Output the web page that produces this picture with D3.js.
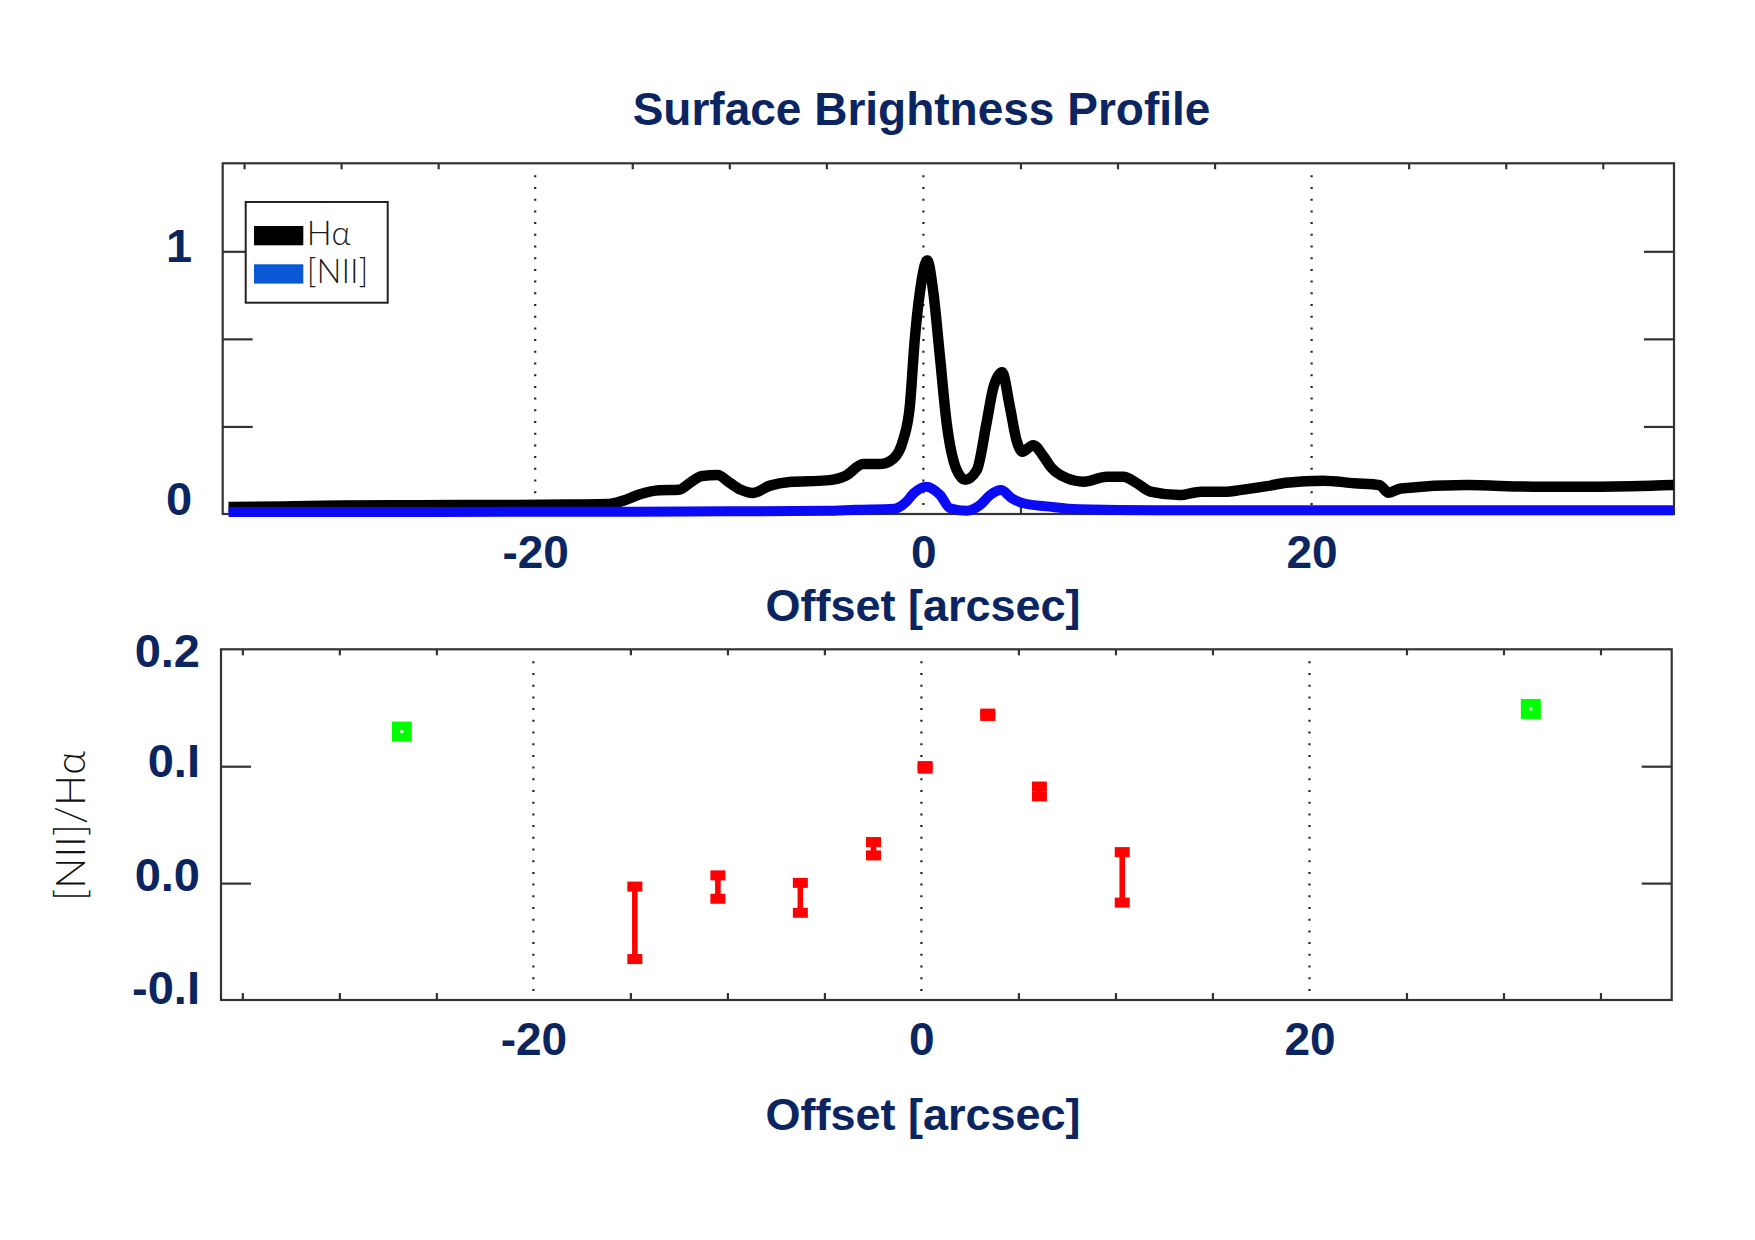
<!DOCTYPE html>
<html>
<head>
<meta charset="utf-8">
<script src="https://cdn.jsdelivr.net/npm/d3@7"></script>
<style>
  body { margin: 0; background: #fff; }
  svg { display: block; }
  .navy { font-family: "Liberation Sans", Arial, sans-serif; font-weight: bold; fill: #0b2560; }
  .thin { font-family: Lato, "Open Sans", sans-serif; font-weight: 300; fill: #1a1a1a; }
</style>
</head>
<body>
<svg id="chart" width="1755" height="1240"></svg>
<script>
// Hα surface brightness, [offset arcsec, normalised flux]
const haProfile = [
  [-35.8, 0.027], [-33, 0.029], [-30, 0.032], [-27, 0.033], [-24, 0.034], [-21, 0.034],
  [-18, 0.036], [-16.2, 0.038], [-15.5, 0.05], [-14.6, 0.075], [-13.6, 0.09], [-12.6, 0.092],
  [-12.0, 0.12], [-11.4, 0.145], [-10.6, 0.148], [-10.0, 0.12], [-9.4, 0.092], [-8.8, 0.08],
  [-7.9, 0.108], [-6.9, 0.122], [-5.0, 0.128], [-4.0, 0.146], [-3.1, 0.19], [-2.2, 0.19],
  [-1.55, 0.21], [-1.05, 0.28], [-0.7, 0.41], [-0.45, 0.66], [-0.17, 0.85], [0.2, 0.965],
  [0.5, 0.85], [0.85, 0.6], [1.2, 0.345], [1.7, 0.17], [2.15, 0.13], [2.75, 0.167],
  [3.25, 0.345], [3.6, 0.48], [4.05, 0.54], [4.45, 0.41], [4.8, 0.28], [5.1, 0.237],
  [5.65, 0.262], [6.2, 0.218], [6.55, 0.18], [7.4, 0.136], [8.25, 0.123], [9.45, 0.142],
  [10.3, 0.142], [11.0, 0.117], [11.7, 0.085], [13.2, 0.072], [14.3, 0.085], [15.6, 0.085],
  [16.3, 0.091], [17.7, 0.106], [18.7, 0.119], [20.6, 0.127], [22.2, 0.117], [23.5, 0.110],
  [23.96, 0.081], [24.6, 0.097], [28.0, 0.110], [31.4, 0.104], [34.9, 0.104], [38.65, 0.110]
];

// [NII] surface brightness
const niiProfile = [
  [-35.8, 0.008], [-25, 0.008], [-15, 0.009], [-10, 0.01], [-5, 0.012], [-3.5, 0.016],
  [-1.5, 0.02], [-0.9, 0.045], [-0.5, 0.079], [0.14, 0.104], [0.86, 0.072], [1.37, 0.022],
  [2.23, 0.012], [2.92, 0.034], [3.44, 0.072], [4.0, 0.091], [4.55, 0.06], [5.15, 0.041],
  [6.5, 0.028], [8, 0.018], [12, 0.014], [20, 0.014], [30, 0.014], [38.65, 0.014]
];

// [NII]/Hα ratio with error bars (red)
const ratioOffsets = [-14.77, -10.49, -6.24, -2.47, 0.19, 3.42, 6.08, 10.35];
const ratioValues  = [-0.034, -0.0034, -0.0126, 0.0294, 0.099, 0.144, 0.0784, 0.0049];
const ratioErrors  = [0.031, 0.010, 0.0128, 0.0057, 0.0011, 0.0010, 0.0042, 0.0216];

// outer points (green)
const outerOffsets = [-26.78, 31.41];
const outerValues  = [0.1296, 0.149];

// ticks
const xMajor = [-20, 0, 20];
const xMinor = [-35, -30, -25, -15, -10, -5, 5, 10, 15, 25, 30, 35];
const topYTicks = [1 / 3, 2 / 3, 1];
const topYLabelValues = [0, 1];
const topYLabels = ["0", "1"];
const botYTicks = [0, 0.1];
const botYLabelValues = [0.2, 0.1, 0, -0.1];
const botYLabels = ["0.2", "0.I", "0.0", "-0.I"];

const legendNames = ["Hα", "[NII]"];
const legendColors = ["#000000", "#0a58d6"];

const svg = d3.select("#chart");
const navy = "#0b2560";
const frameColor = "#333";

// panel frames
const topBox = { left: 222.7, right: 1674, top: 163.3, bottom: 514 };
const botBox = { left: 221, right: 1671.7, top: 649.3, bottom: 1000 };

const xTop = d3.scaleLinear().domain([-36.1, 38.67]).range([topBox.left, topBox.right]);
const yTop = d3.scaleLinear().domain([0, 1.335]).range([topBox.bottom, topBox.top]);
const xBot = d3.scaleLinear().domain([-36.1, 38.67]).range([botBox.left, botBox.right]);
const yBot = d3.scaleLinear().domain([-0.1, 0.2]).range([botBox.bottom, botBox.top]);

// Title
svg.append("text").attr("class", "navy").attr("x", 921.5).attr("y", 125)
  .attr("text-anchor", "middle").style("font-size", "46px").text("Surface Brightness Profile");

function drawFrame(box, x, y, yTicks) {
  const g = svg.append("g");
  // dotted verticals at the major offsets
  g.selectAll(".dot").data(xMajor).enter().append("line")
    .attr("x1", d => x(d)).attr("x2", d => x(d))
    .attr("y1", box.top + 12).attr("y2", box.bottom - 8)
    .attr("stroke", "#222").attr("stroke-width", 2.2).attr("stroke-dasharray", "2 9.7");
  // minor ticks top and bottom
  const ax = d3.axisTop(x).tickValues(xMinor).tickSize(-6).tickFormat("");
  g.append("g").attr("transform", `translate(0,${box.top})`).call(ax);
  const axb = d3.axisBottom(x).tickValues(xMinor).tickSize(-7).tickFormat("");
  g.append("g").attr("transform", `translate(0,${box.bottom})`).call(axb);
  // y ticks left/right
  const ayl = d3.axisLeft(y).tickValues(yTicks).tickSize(-30).tickFormat("");
  g.append("g").attr("transform", `translate(${box.left},0)`).call(ayl);
  const ayr = d3.axisRight(y).tickValues(yTicks).tickSize(-30).tickFormat("");
  g.append("g").attr("transform", `translate(${box.right},0)`).call(ayr);
  g.selectAll(".domain").remove();
  g.selectAll(".tick line").attr("stroke", frameColor).attr("stroke-width", 2.2);
  g.append("rect").attr("x", box.left).attr("y", box.top)
    .attr("width", box.right - box.left).attr("height", box.bottom - box.top)
    .attr("fill", "none").attr("stroke", frameColor).attr("stroke-width", 2.2);
  return g;
}

function xLabels(box, x, pad) {
  const a = d3.axisBottom(x).tickValues(xMajor).tickSize(0).tickPadding(pad).tickFormat(d => String(d));
  const g = svg.append("g").attr("transform", `translate(0,${box.bottom})`).call(a);
  g.select(".domain").remove();
  g.selectAll("text").attr("class", "navy").attr("fill", navy)
    .style("font-size", "46px").style("font-family", "'Liberation Sans', Arial, sans-serif").style("font-weight", "bold");
}

// ---------- top panel ----------
drawFrame(topBox, xTop, yTop, topYTicks);

const line = (x, y) => d3.line().curve(d3.curveMonotoneX).x(d => x(d[0])).y(d => y(d[1]));

svg.append("path").datum(haProfile).attr("d", line(xTop, yTop))
  .attr("fill", "none").attr("stroke", "#000").attr("stroke-width", 10.5).attr("stroke-linejoin", "miter");
svg.append("path").datum(niiProfile).attr("d", line(xTop, yTop))
  .attr("fill", "none").attr("stroke", "#0a0af5").attr("stroke-width", 10).attr("stroke-linejoin", "miter");

xLabels(topBox, xTop, 21);

// y labels top panel
const topShift = [-16, -6];
svg.selectAll(".tyl").data(topYLabelValues).enter().append("text")
  .attr("class", "navy").attr("x", 179).attr("text-anchor", "middle")
  .attr("y", (d, i) => yTop(d) + topShift[i]).attr("dy", "0.36em")
  .style("font-size", "47px").text((d, i) => topYLabels[i]);

svg.append("text").attr("class", "navy").attr("x", 923).attr("y", 621)
  .attr("text-anchor", "middle").style("font-size", "45px").text("Offset [arcsec]");

// legend
const leg = svg.append("g").attr("transform", "translate(245.7,202)");
leg.append("rect").attr("width", 142).attr("height", 100.7)
  .attr("fill", "#fff").attr("stroke", "#222").attr("stroke-width", 2);
legendNames.forEach((n, i) => {
  leg.append("rect").attr("x", 8.3).attr("y", 24 + i * 38.3).attr("width", 49.3).attr("height", 19.3)
    .attr("fill", legendColors[i]);
  leg.append("text").attr("class", "thin").attr("x", 61).attr("y", 43 + i * 38.3)
    .style("font-size", "33px").text(n);
});

// ---------- bottom panel ----------
drawFrame(botBox, xBot, yBot, botYTicks);

const err = svg.append("g").attr("fill", "#ff0000");
ratioOffsets.forEach((o, i) => {
  const cx = xBot(o);
  const yHi = yBot(ratioValues[i] + ratioErrors[i]);
  const yLo = yBot(ratioValues[i] - ratioErrors[i]);
  err.append("rect").attr("x", cx - 2.8).attr("y", yHi).attr("width", 5.6).attr("height", yLo - yHi);
  err.append("rect").attr("x", cx - 7.5).attr("y", yHi - 5).attr("width", 15).attr("height", 10);
  err.append("rect").attr("x", cx - 7.5).attr("y", yLo - 5).attr("width", 15).attr("height", 10);
});

outerOffsets.forEach((o, i) => {
  const cx = xBot(o), cy = yBot(outerValues[i]);
  svg.append("rect").attr("x", cx - 10).attr("y", cy - 10).attr("width", 20).attr("height", 20).attr("fill", "#00ff00");
  svg.append("rect").attr("x", cx - 1.5).attr("y", cy - 1.5).attr("width", 3).attr("height", 3).attr("fill", "#fff");
});

xLabels(botBox, xBot, 22);

const botShift = [1, -6, -9, -13];
svg.selectAll(".byl").data(botYLabelValues).enter().append("text")
  .attr("class", "navy").attr("x", 200).attr("text-anchor", "end")
  .attr("y", (d, i) => yBot(d) + botShift[i]).attr("dy", "0.36em")
  .style("font-size", "47px").text((d, i) => botYLabels[i]);

svg.append("text").attr("class", "navy").attr("x", 923).attr("y", 1130)
  .attr("text-anchor", "middle").style("font-size", "45px").text("Offset [arcsec]");

svg.append("text").attr("class", "thin")
  .attr("transform", "translate(70,826) rotate(-90)")
  .attr("text-anchor", "middle").attr("dy", "0.35em")
  .attr("textLength", 150).attr("lengthAdjust", "spacingAndGlyphs")
  .style("font-size", "42px").style("fill", "#111").text("[NII]/Hα");
</script>
</body>
</html>
